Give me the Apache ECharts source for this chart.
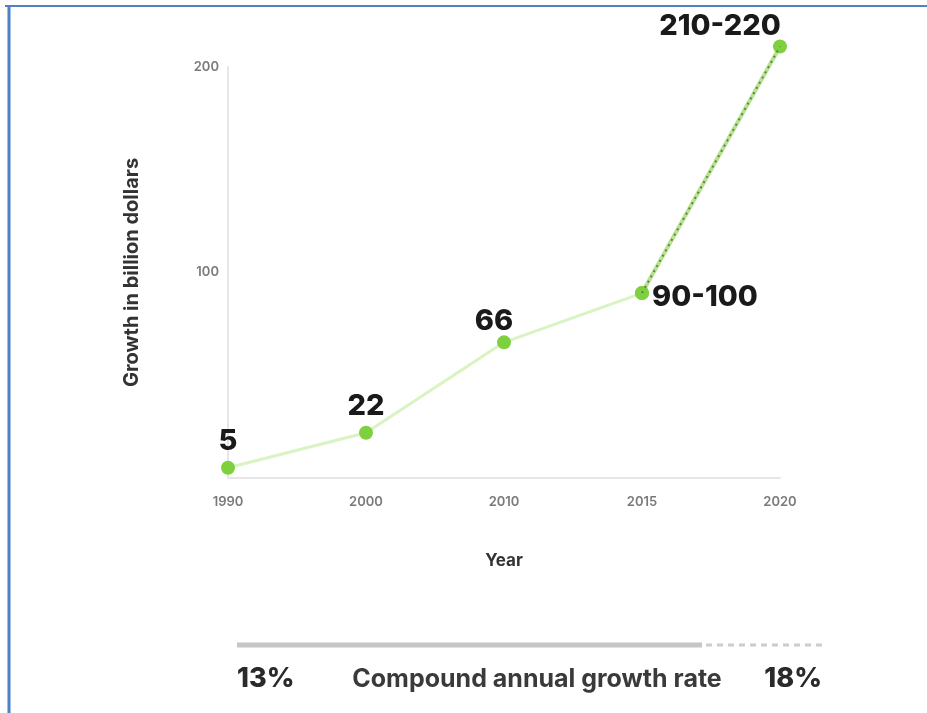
<!DOCTYPE html>
<html>
<head>
<meta charset="utf-8">
<script src="https://cdn.jsdelivr.net/npm/echarts@6/dist/echarts.min.js"></script>
<style>
  html, body { margin: 0; padding: 0; background: #ffffff; }
  #chart { width: 927px; height: 713px; }
</style>
</head>
<body>
<div id="chart"></div>
<script>
// Market growth, billions of dollars
const years = ['1990', '2000', '2010', '2015', '2020'];
const valueLow = [5, 22, 66, 90, 210];
const valueHigh = [null, null, null, 100, 220];
const actualCount = 4;              // first four points are observed, last one projected
const yTicks = [0, 100, 200];
const cagrLeft = '13%';
const cagrRight = '18%';
const cagrCaption = 'Compound annual growth rate';

const GREEN = '#7fd03f';
const LABEL_FONT = 'Inter, "Open Sans", sans-serif';

function labelText(i) {
  return valueHigh[i] != null ? valueLow[i] + '-' + valueHigh[i] : String(valueLow[i]);
}

// per-point label placement
const labelPlace = [
  { position: 'top', offset: [0, 0] },
  { position: 'top', offset: [0, 0] },
  { position: 'top', offset: [-10, 5] },
  { position: 'right', offset: [-2, 4] },
  { position: 'top', offset: [-60, 6] }
];

function pointItem(i) {
  return {
    value: valueLow[i],
    label: Object.assign({
      show: true,
      formatter: labelText(i),
      color: '#1a1a1a',
      fontFamily: LABEL_FONT,
      fontWeight: 800,
      fontSize: 29
    }, labelPlace[i])
  };
}

const actualData = years.map((y, i) => i < actualCount ? pointItem(i) : '-');
const projData = years.map((y, i) => i === actualCount - 1 ? valueLow[i] : (i >= actualCount ? pointItem(i) : '-'));
const projDots = years.map((y, i) => i >= actualCount - 1 ? valueLow[i] : '-');

const chart = echarts.init(document.getElementById('chart'));
chart.setOption({
  backgroundColor: '#ffffff',
  animation: false,
  grid: { left: 228, right: 147, top: 67, bottom: 235, containLabel: false },
  xAxis: {
    type: 'category',
    data: years,
    boundaryGap: false,
    name: 'Year',
    nameLocation: 'middle',
    nameGap: 74,
    nameTextStyle: { color: '#333', fontSize: 17, fontWeight: 700, fontFamily: LABEL_FONT },
    axisLine: { lineStyle: { color: '#e6e6e6', width: 2 } },
    axisTick: { show: false },
    axisLabel: { color: '#7a7a7a', fontSize: 13, fontWeight: 600, margin: 18, fontFamily: LABEL_FONT }
  },
  yAxis: {
    type: 'value',
    min: yTicks[0],
    max: yTicks[yTicks.length - 1],
    interval: yTicks[1] - yTicks[0],
    name: 'Growth in billion dollars',
    nameLocation: 'middle',
    nameGap: 86,
    nameTextStyle: { color: '#333', fontSize: 20, fontWeight: 700, fontFamily: LABEL_FONT },
    splitLine: { show: false },
    axisTick: { show: false },
    axisLine: { show: true, lineStyle: { color: '#e6e6e6', width: 2 } },
    axisLabel: {
      color: '#7a7a7a', fontSize: 13, fontWeight: 600, margin: 9, fontFamily: LABEL_FONT,
      formatter: v => v === 0 ? '' : String(v)
    }
  },
  series: [
    {
      name: 'Observed',
      type: 'line',
      data: actualData,
      symbol: 'circle',
      symbolSize: 14,
      itemStyle: { color: GREEN },
      lineStyle: { color: '#d9f3c2', width: 3 },
      z: 3
    },
    {
      name: 'Projected',
      type: 'line',
      data: projData,
      symbol: 'circle',
      symbolSize: 14,
      clip: false,
      itemStyle: { color: GREEN },
      lineStyle: { color: '#b5e58a', width: 4 },
      z: 3
    },
    {
      name: 'Projected dots',
      type: 'line',
      data: projDots,
      symbol: 'none',
      silent: true,
      clip: false,
      lineStyle: { color: '#6b7a5e', width: 2, type: [2, 4] },
      z: 4
    }
  ],
  graphic: [
    // page frame
    { type: 'line', shape: { x1: 5, y1: 6, x2: 927, y2: 6 }, style: { stroke: '#4f81c7', lineWidth: 2 } },
    { type: 'line', shape: { x1: 9, y1: 5, x2: 9, y2: 713 }, style: { stroke: '#4f81c7', lineWidth: 3 } },
    // CAGR bar
    { type: 'line', shape: { x1: 237, y1: 645, x2: 702, y2: 645 }, style: { stroke: '#c6c6c6', lineWidth: 5 } },
    { type: 'line', shape: { x1: 706, y1: 645, x2: 822, y2: 645 }, style: { stroke: '#cccccc', lineWidth: 3, lineDash: [6, 5] } },
    { type: 'text', x: 237, y: 679, style: { text: cagrLeft, fill: '#2a2a2a', font: '800 27px ' + LABEL_FONT, textVerticalAlign: 'middle' } },
    { type: 'text', x: 537, y: 679, style: { text: cagrCaption, fill: '#3a3a3a', font: '700 25px ' + LABEL_FONT, textAlign: 'center', textVerticalAlign: 'middle' } },
    { type: 'text', x: 822, y: 679, style: { text: cagrRight, fill: '#2a2a2a', font: '800 27px ' + LABEL_FONT, textAlign: 'right', textVerticalAlign: 'middle' } }
  ]
});
</script>
</body>
</html>
